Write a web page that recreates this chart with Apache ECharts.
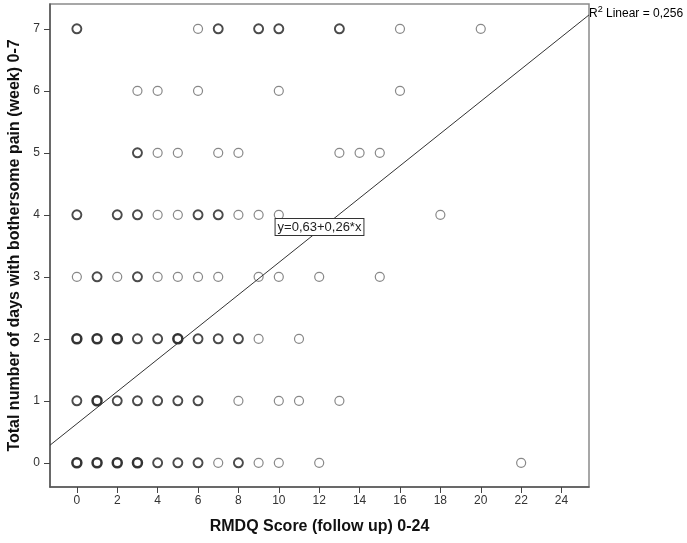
<!DOCTYPE html>
<html>
<head>
<meta charset="utf-8">
<script src="https://cdn.jsdelivr.net/npm/echarts@6/dist/echarts.min.js"></script>
<style>
html,body{margin:0;padding:0;background:#fff;}
#c{width:687px;height:543px;}
</style>
</head>
<body>
<div id="c"></div>
<script>
// ---- data ----
const xTicks = [0,2,4,6,8,10,12,14,16,18,20,22,24];
const yTicks = [0,1,2,3,4,5,6,7];
// scatter points: RMDQ score, days with pain, overlap level (1 = single, 2 = several, 3 = many)
const pointsX = [
  0,6,7,9,10,13,16,20,
  3,4,6,10,16,
  3,4,5,7,8,13,14,15,
  0,2,3,4,5,6,7,8,9,10,18,
  0,1,2,3,4,5,6,7,9,10,12,15,
  0,1,2,3,4,5,6,7,8,9,11,
  0,1,2,3,4,5,6,8,10,11,13,
  0,1,2,3,4,5,6,7,8,9,10,12,22
];
const pointsY = [
  7,7,7,7,7,7,7,7,
  6,6,6,6,6,
  5,5,5,5,5,5,5,5,
  4,4,4,4,4,4,4,4,4,4,4,
  3,3,3,3,3,3,3,3,3,3,3,3,
  2,2,2,2,2,2,2,2,2,2,2,
  1,1,1,1,1,1,1,1,1,1,1,
  0,0,0,0,0,0,0,0,0,0,0,0,0
];
const pointsLevel = [
  2,1,2,2,2,2,1,1,
  1,1,1,1,1,
  2,1,1,1,1,1,1,1,
  2,2,2,1,1,2,2,1,1,1,1,
  1,2,1,2,1,1,1,1,1,1,1,1,
  3,3,3,2,2,3,2,2,2,1,1,
  2,3,2,2,2,2,2,1,1,1,1,
  3,3,3,3,2,2,2,1,2,1,1,1,1
];
const fitIntercept = 0.63;
const fitSlope = 0.26;
const fitLabel = 'y=0,63+0,26*x';
const r2Text = '0,256';
const xTitle = 'RMDQ Score (follow up) 0-24';
const yTitle = 'Total number of days with bothersome pain (week) 0-7';
const xMin = -1.33, xMax = 25.36, yMin = -0.39, yMax = 7.4;

const FONT = "'Liberation Sans', Arial, sans-serif";
const levelStyles = {
  1: {borderColor: '#6a6a6a', borderWidth: 1.2},
  2: {borderColor: '#1e1e1e', borderWidth: 1.9},
  3: {borderColor: '#000000', borderWidth: 2.5}
};
const scatterSeries = [1,2,3].map(lv => ({
  type: 'scatter',
  symbol: 'circle',
  symbolSize: 9,
  itemStyle: Object.assign({color: 'rgba(0,0,0,0)'}, levelStyles[lv]),
  data: pointsX.map((x,i)=>[x, pointsY[i], pointsLevel[i]]).filter(d => d[2] === lv).map(d => [d[0], d[1]]),
  z: 3,
  silent: true
}));

const midX = (xMin + xMax) / 2;
const chart = echarts.init(document.getElementById('c'), null, {renderer: 'canvas'});
chart.setOption({
  animation: false,
  backgroundColor: '#fff',
  grid: {left: 50, right: 98, top: 4, bottom: 56, show: true, borderColor: '#8a8a8a', borderWidth: 1.5, containLabel: false, outerBoundsMode: 'none'},
  xAxis: {
    type: 'value', min: xMin, max: xMax,
    name: xTitle, nameLocation: 'middle', nameGap: 32,
    nameTextStyle: {fontFamily: FONT, fontSize: 16, fontWeight: 'bold', color: '#111'},
    axisLine: {show: true, onZero: false, lineStyle: {color: '#555', width: 1.5}},
    axisTick: {show: true, length: 6, customValues: xTicks, lineStyle: {color: '#444'}},
    axisLabel: {customValues: xTicks, margin: 8, fontFamily: FONT, fontSize: 12, color: '#333'},
    splitLine: {show: false}
  },
  yAxis: {
    type: 'value', min: yMin, max: yMax,
    name: yTitle, nameLocation: 'middle', nameGap: 24,
    nameTextStyle: {fontFamily: FONT, fontSize: 16, fontWeight: 'bold', color: '#111'},
    axisLine: {show: true, onZero: false, lineStyle: {color: '#555', width: 1.5}},
    axisTick: {show: true, length: 6, customValues: yTicks, lineStyle: {color: '#444'}},
    axisLabel: {customValues: yTicks, margin: 10, fontFamily: FONT, fontSize: 12, color: '#333'},
    splitLine: {show: false}
  },
  series: scatterSeries.concat([{
    type: 'line',
    data: [[xMin, fitIntercept + fitSlope * xMin], [xMax, fitIntercept + fitSlope * xMax]],
    symbol: 'none',
    lineStyle: {color: '#333', width: 1},
    z: 4,
    silent: true,
    markPoint: {
      symbol: 'rect', symbolSize: 0,
      data: [{coord: [midX, fitIntercept + fitSlope * midX]}],
      label: {
        show: true, position: 'inside', offset: [0, -3],
        formatter: fitLabel,
        fontFamily: FONT, fontSize: 13, color: '#222',
        backgroundColor: '#fff', borderColor: '#333', borderWidth: 1,
        padding: [2, 2, 1, 2]
      },
      z: 6
    }
  }]),
  graphic: [{
    type: 'text', left: 589, top: 5, z: 10,
    style: {
      text: '{s|R}{t|2}{a| Linear = ' + r2Text + '}',
      rich: {
        s: {fontFamily: FONT, fontSize: 12, color: '#222', lineHeight: 15, verticalAlign: 'bottom'},
        a: {fontFamily: FONT, fontSize: 12, color: '#222', lineHeight: 15, verticalAlign: 'bottom'},
        t: {fontFamily: FONT, fontSize: 9, color: '#222', lineHeight: 15, padding: [0, 0, 6, 0]}
      }
    }
  }]
});
</script>
</body>
</html>
